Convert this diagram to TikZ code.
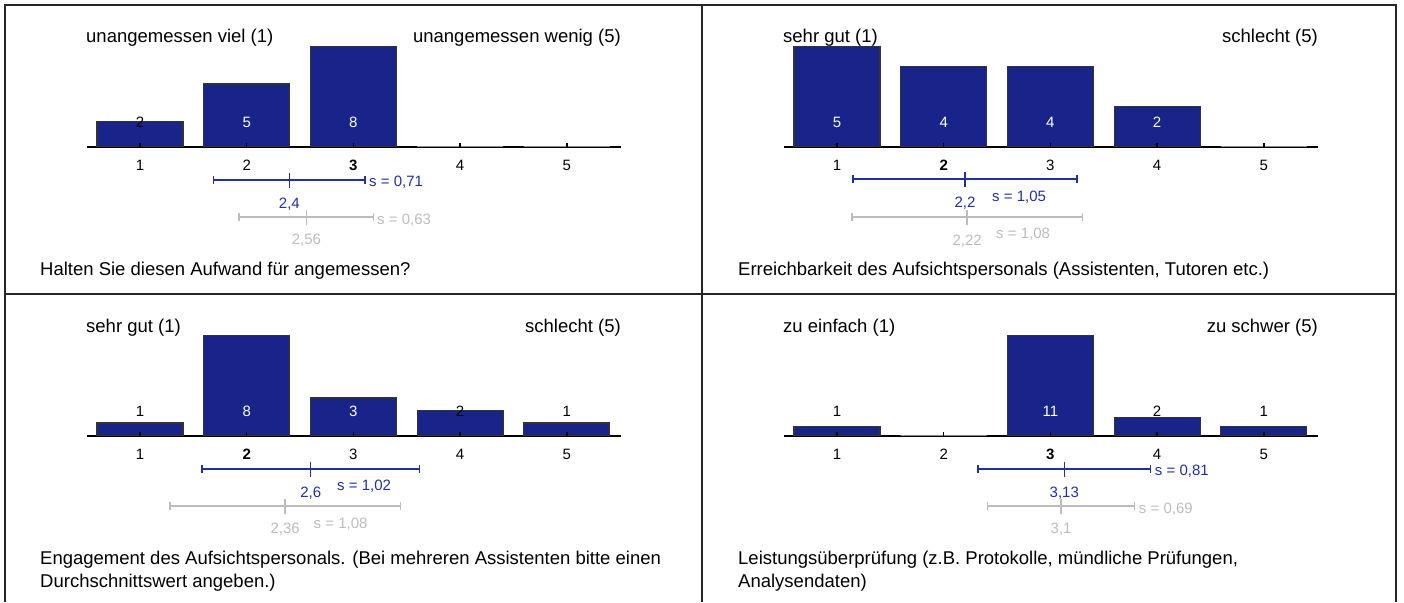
\documentclass[tikz,border=0pt]{standalone}
\usepackage{fontspec}
\setmainfont{Liberation Sans}
\definecolor{barblue}{RGB}{24,36,138}
\definecolor{meanblue}{RGB}{34,48,160}
\definecolor{refgray}{RGB}{188,188,188}
\tikzset{
  bigtext/.style={font=\fontsize{18.5}{23}\selectfont, inner sep=0pt},
  smalltext/.style={font=\fontsize{15}{18}\selectfont, inner sep=0pt},
  bar/.style={fill=barblue, line width=1.2pt, minimum width=86pt, inner sep=0pt, anchor=south},
  axisline/.style={line width=1.5pt},
  sdblue/.style={meanblue, line width=1.5pt},
  sdgray/.style={refgray, line width=1.5pt},
  tableline/.style={line width=2pt, black!85},
}
\begin{document}
\begin{tikzpicture}[x=1pt, y=-1pt]
  \useasboundingbox (0,0) rectangle (1404,602);
  % table lines
  \draw[tableline] (4.5,602) -- (4.5,5) -- (1396,5) -- (1396,602);
  \draw[tableline] (4.5,293.5) -- (1396,293.5);
  \draw[tableline] (702,5) -- (702,602);

  % Aufwand
  \begin{scope}
    \node[bigtext, anchor=base west] (a-lo) at (86,43) {unangemessen viel (1)};
    \node[bigtext, anchor=base east] (a-hi) at (621,43) {unangemessen wenig (5)};
    \coordinate (a-ax0) at (87,147);
    \coordinate (a-ax1) at (621,147);
    \draw[axisline] (a-ax0) -- (a-ax1);
    \foreach \i/\h/\n/\c/\d/\l in {1/25/2/black/black!80/1, 2/62.5/5/white/black!80/2,
        3/100/8/white/black!80/{\textbf{3}}, 4/0//black/black!45/4, 5/0//black/black!45/5} {
      \node[bar, minimum height=\h pt, draw=\d] (a-bar\i) at ({140+106.7*(\i-1)},147) {};
      \draw[axisline] (a-bar\i.south) -- ++(0,-4);
      \node[smalltext, text=\c, anchor=base] (a-n\i) at ({140+106.7*(\i-1)},127.5) {\n};
      \node[smalltext, anchor=base] (a-x\i) at ({140+106.7*(\i-1)},170.5) {\l};
    }
    \coordinate (a-m) at (289.4,180);
    \coordinate (a-ml) at (213.6,180);
    \coordinate (a-mr) at (365.2,180);
    \draw[sdblue] (a-ml) -- (a-mr);
    \draw[sdblue] (a-ml) ++(0,-4) -- ++(0,8);
    \draw[sdblue] (a-mr) ++(0,-4) -- ++(0,8);
    \draw[sdblue] (a-m) ++(0,-7.5) -- ++(0,15);
    \node[smalltext, text=meanblue, anchor=west] (a-s) at (369,182) {s = 0,71};
    \node[smalltext, text=meanblue] (a-mv) at (289.4,204) {2,4};
    \coordinate (a-g) at (306.4,217);
    \coordinate (a-gl) at (239.2,217);
    \coordinate (a-gr) at (373.6,217);
    \draw[sdgray] (a-gl) -- (a-gr);
    \draw[sdgray] (a-gl) ++(0,-4) -- ++(0,8);
    \draw[sdgray] (a-gr) ++(0,-4) -- ++(0,8);
    \draw[sdgray] (a-g) ++(0,-7.5) -- ++(0,15);
    \node[smalltext, text=refgray, anchor=west] (a-gs) at (377,220) {s = 0,63};
    \node[smalltext, text=refgray] (a-gv) at (306.4,240) {2,56};
    \node[bigtext, anchor=base west] (a-q) at (40,275) {Halten Sie diesen Aufwand für angemessen?};
  \end{scope}

  % Erreichbarkeit
  \begin{scope}[shift={(697,0)}]
    \node[bigtext, anchor=base west] (b-lo) at (86,43) {sehr gut (1)};
    \node[bigtext, anchor=base east] (b-hi) at (621,43) {schlecht (5)};
    \coordinate (b-ax0) at (87,147);
    \coordinate (b-ax1) at (621,147);
    \draw[axisline] (b-ax0) -- (b-ax1);
    \foreach \i/\h/\n/\c/\d/\l in {1/100/5/white/black!80/1, 2/80/4/white/black!80/{\textbf{2}},
        3/80/4/white/black!80/3, 4/40/2/white/black!80/4, 5/0//black/black!45/5} {
      \node[bar, minimum height=\h pt, draw=\d] (b-bar\i) at ({140+106.7*(\i-1)},147) {};
      \draw[axisline] (b-bar\i.south) -- ++(0,-4);
      \node[smalltext, text=\c, anchor=base] (b-n\i) at ({140+106.7*(\i-1)},127.5) {\n};
      \node[smalltext, anchor=base] (b-x\i) at ({140+106.7*(\i-1)},170.5) {\l};
    }
    \coordinate (b-m) at (268,179);
    \coordinate (b-ml) at (156,179);
    \coordinate (b-mr) at (380,179);
    \draw[sdblue] (b-ml) -- (b-mr);
    \draw[sdblue] (b-ml) ++(0,-4) -- ++(0,8);
    \draw[sdblue] (b-mr) ++(0,-4) -- ++(0,8);
    \draw[sdblue] (b-m) ++(0,-7.5) -- ++(0,15);
    \node[smalltext, text=meanblue, anchor=west] (b-s) at (295,197) {s = 1,05};
    \node[smalltext, text=meanblue] (b-mv) at (268,203) {2,2};
    \coordinate (b-g) at (270.2,217);
    \coordinate (b-gl) at (155,217);
    \coordinate (b-gr) at (385.4,217);
    \draw[sdgray] (b-gl) -- (b-gr);
    \draw[sdgray] (b-gl) ++(0,-4) -- ++(0,8);
    \draw[sdgray] (b-gr) ++(0,-4) -- ++(0,8);
    \draw[sdgray] (b-g) ++(0,-7.5) -- ++(0,15);
    \node[smalltext, text=refgray, anchor=west] (b-gs) at (299,234) {s = 1,08};
    \node[smalltext, text=refgray] (b-gv) at (270.2,241) {2,22};
    \node[bigtext, anchor=base west] (b-q) at (41,275) {Erreichbarkeit des Aufsichtspersonals (Assistenten, Tutoren etc.)};
  \end{scope}

  % Engagement
  \begin{scope}[shift={(0,289)}]
    \node[bigtext, anchor=base west] (c-lo) at (86,43) {sehr gut (1)};
    \node[bigtext, anchor=base east] (c-hi) at (621,43) {schlecht (5)};
    \coordinate (c-ax0) at (87,147);
    \coordinate (c-ax1) at (621,147);
    \draw[axisline] (c-ax0) -- (c-ax1);
    \foreach \i/\h/\n/\c/\d/\l in {1/12.5/1/black/black!80/1, 2/100/8/white/black!80/{\textbf{2}},
        3/37.5/3/white/black!80/3, 4/25/2/black/black!80/4, 5/12.5/1/black/black!80/5} {
      \node[bar, minimum height=\h pt, draw=\d] (c-bar\i) at ({140+106.7*(\i-1)},147) {};
      \draw[axisline] (c-bar\i.south) -- ++(0,-4);
      \node[smalltext, text=\c, anchor=base] (c-n\i) at ({140+106.7*(\i-1)},127.5) {\n};
      \node[smalltext, anchor=base] (c-x\i) at ({140+106.7*(\i-1)},170.5) {\l};
    }
    \coordinate (c-m) at (310.7,180);
    \coordinate (c-ml) at (201.9,180);
    \coordinate (c-mr) at (419.5,180);
    \draw[sdblue] (c-ml) -- (c-mr);
    \draw[sdblue] (c-ml) ++(0,-4) -- ++(0,8);
    \draw[sdblue] (c-mr) ++(0,-4) -- ++(0,8);
    \draw[sdblue] (c-m) ++(0,-7.5) -- ++(0,15);
    \node[smalltext, text=meanblue, anchor=west] (c-s) at (337,197) {s = 1,02};
    \node[smalltext, text=meanblue] (c-mv) at (310.7,204) {2,6};
    \coordinate (c-g) at (285.1,217);
    \coordinate (c-gl) at (169.9,217);
    \coordinate (c-gr) at (400.3,217);
    \draw[sdgray] (c-gl) -- (c-gr);
    \draw[sdgray] (c-gl) ++(0,-4) -- ++(0,8);
    \draw[sdgray] (c-gr) ++(0,-4) -- ++(0,8);
    \draw[sdgray] (c-g) ++(0,-7.5) -- ++(0,15);
    \node[smalltext, text=refgray, anchor=west] (c-gs) at (313.5,235) {s = 1,08};
    \node[smalltext, text=refgray] (c-gv) at (285.1,240) {2,36};
    \node[bigtext, anchor=base west, align=left] (c-q) at (40,298) {Engagement des Aufsichtspersonals. (Bei mehreren Assistenten bitte einen\\Durchschnittswert angeben.)};
  \end{scope}

  % Leistungsueberpruefung
  \begin{scope}[shift={(697,289)}]
    \node[bigtext, anchor=base west] (d-lo) at (86,43) {zu einfach (1)};
    \node[bigtext, anchor=base east] (d-hi) at (621,43) {zu schwer (5)};
    \coordinate (d-ax0) at (87,147);
    \coordinate (d-ax1) at (621,147);
    \draw[axisline] (d-ax0) -- (d-ax1);
    \foreach \i/\h/\n/\c/\d/\l in {1/9.1/1/black/black!80/1, 2/0//black/black!45/2,
        3/100/11/white/black!80/{\textbf{3}}, 4/18.2/2/black/black!80/4, 5/9.1/1/black/black!80/5} {
      \node[bar, minimum height=\h pt, draw=\d] (d-bar\i) at ({140+106.7*(\i-1)},147) {};
      \draw[axisline] (d-bar\i.south) -- ++(0,-4);
      \node[smalltext, text=\c, anchor=base] (d-n\i) at ({140+106.7*(\i-1)},127.5) {\n};
      \node[smalltext, anchor=base] (d-x\i) at ({140+106.7*(\i-1)},170.5) {\l};
    }
    \coordinate (d-m) at (367.3,180);
    \coordinate (d-ml) at (280.9,180);
    \coordinate (d-mr) at (453.7,180);
    \draw[sdblue] (d-ml) -- (d-mr);
    \draw[sdblue] (d-ml) ++(0,-4) -- ++(0,8);
    \draw[sdblue] (d-mr) ++(0,-4) -- ++(0,8);
    \draw[sdblue] (d-m) ++(0,-7.5) -- ++(0,15);
    \node[smalltext, text=meanblue, anchor=west] (d-s) at (457.7,182) {s = 0,81};
    \node[smalltext, text=meanblue] (d-mv) at (367.3,204) {3,13};
    \coordinate (d-g) at (364.1,217);
    \coordinate (d-gl) at (290.5,217);
    \coordinate (d-gr) at (437.7,217);
    \draw[sdgray] (d-gl) -- (d-gr);
    \draw[sdgray] (d-gl) ++(0,-4) -- ++(0,8);
    \draw[sdgray] (d-gr) ++(0,-4) -- ++(0,8);
    \draw[sdgray] (d-g) ++(0,-7.5) -- ++(0,15);
    \node[smalltext, text=refgray, anchor=west] (d-gs) at (441.7,220) {s = 0,69};
    \node[smalltext, text=refgray] (d-gv) at (364.1,240) {3,1};
    \node[bigtext, anchor=base west, align=left] (d-q) at (41,298) {Leistungsüberprüfung (z.B. Protokolle, mündliche Prüfungen,\\Analysendaten)};
  \end{scope}
\end{tikzpicture}
\end{document}
